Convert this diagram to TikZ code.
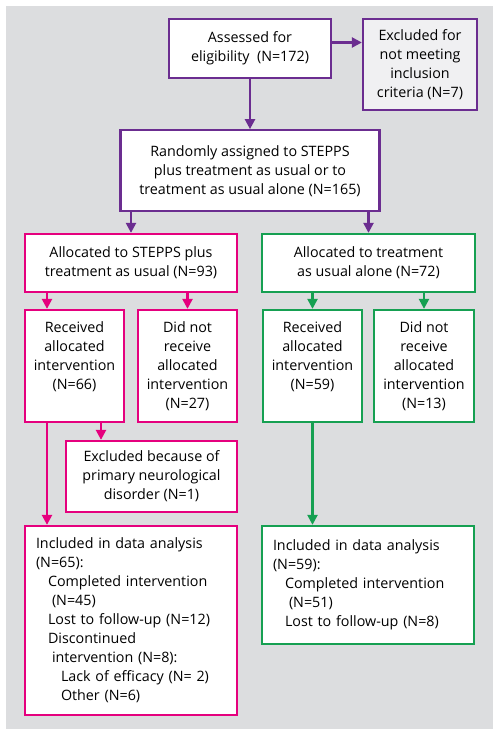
\documentclass[tikz,border=0pt]{standalone}
\usepackage{fontspec}
\setmainfont{Open Sans}
\usetikzlibrary{arrows.meta,positioning}

\definecolor{purp}{HTML}{6B2D90}
\definecolor{pinkk}{HTML}{E5007E}
\definecolor{grn}{HTML}{16A052}
\definecolor{panel}{HTML}{DCDDDF}
\definecolor{exclfill}{HTML}{F0F0F2}

\begin{document}
\begin{tikzpicture}[
    x=1pt, y=1pt,
    font=\fontsize{14.3}{19}\selectfont,
    box/.style={rectangle, draw, line width=2.3pt, fill=white, align=center, inner sep=2pt},
    pbox/.style={box, draw=purp},
    sbox/.style={box, draw=pinkk},
    tbox/.style={box, draw=grn},
    listbox/.style={rectangle, draw, line width=2.3pt, fill=white, align=left, inner xsep=11pt, text width=190pt},
    arrow/.style={line width=2.3pt, -{Triangle[width=10pt,length=10pt]}}
  ]

  % page and grey panel
  \useasboundingbox (0,0) rectangle (499,-736);
  \fill[panel] (6,-6) rectangle (493,-729);

  % Enrollment
  \node[pbox, minimum width=162pt, minimum height=59pt] (assess) at (250,-48.5) {Assessed for\\eligibility~~(N=172)};
  \node[pbox, fill=exclfill, minimum width=114pt, minimum height=91pt] (excl) at (420,-64.5) {Excluded for\\not meeting\\inclusion\\criteria (N=7)};
  \node[pbox, minimum width=259pt, minimum height=81pt, below=50pt of assess] (rand) {Randomly assigned to STEPPS\\plus treatment as usual or to\\treatment as usual alone (N=165)};

  % Allocation
  \node[sbox, minimum width=212pt, minimum height=58pt] (stepps) at (131,-263) {Allocated to STEPPS plus\\treatment as usual (N=93)};
  \node[tbox, minimum width=213pt, minimum height=58pt] (tau) at (368.5,-263) {Allocated to treatment\\as usual alone (N=72)};

  % Intervention received or not
  \node[sbox, minimum width=99pt, minimum height=112pt, text depth=21pt] (recS) at (74.5,-366) {Received\\allocated\\intervention\\(N=66)};
  \node[sbox, minimum width=99pt, minimum height=112pt] (notS) at (187.5,-366) {Did not\\receive\\allocated\\intervention\\(N=27)};
  \node[tbox, minimum width=99pt, minimum height=112pt, text depth=21pt] (recT) at (312.5,-366) {Received\\allocated\\intervention\\(N=59)};
  \node[tbox, minimum width=100pt, minimum height=112pt] (notT) at (424,-366) {Did not\\receive\\allocated\\intervention\\(N=13)};

  \node[sbox, minimum width=171pt, minimum height=71pt] (neuro) at (151.5,-476.5) {Excluded because of\\primary neurological\\disorder (N=1)};

  % Analysis
  \node[listbox, draw=pinkk, minimum height=189pt] (anaS) at (131,-620.5) {Included in data analysis\\
    (N=65):\\
    \hspace*{12pt}Completed intervention\\
    \hspace*{16pt}(N=45)\\
    \hspace*{12pt}Lost to follow-up (N=12)\\
    \hspace*{12pt}Discontinued\\
    \hspace*{16pt}intervention (N=8):\\
    \hspace*{25pt}Lack of efficacy (N=~2)\\
    \hspace*{25pt}Other (N=6)};
  \node[listbox, draw=grn, minimum height=118pt] (anaT) at (368,-585) {Included in data analysis\\
    (N=59):\\
    \hspace*{12pt}Completed intervention\\
    \hspace*{16pt}(N=51)\\
    \hspace*{12pt}Lost to follow-up (N=8)};

  % helper columns for the pink side
  \coordinate (sL) at (47,0);
  \coordinate (nL) at (101,0);

  % Arrows
  \draw[arrow, purp] ([yshift=6pt]assess.east) -- ([yshift=6pt]assess.east -| excl.west);
  \draw[arrow, purp] (assess.south) -- (rand.north);
  \draw[arrow, purp] (rand.south -| stepps.north) -- (stepps.north);
  \draw[arrow, purp] (rand.south -| tau.north) -- (tau.north);

  \draw[arrow, pinkk] (stepps.south -| sL) -- (recS.north -| sL);
  \draw[arrow, pinkk] (stepps.south -| notS.north) -- (notS.north);
  \draw[arrow, pinkk] (recS.south -| nL) -- (neuro.north -| nL);
  \draw[arrow, pinkk] (recS.south -| sL) -- (anaS.north -| sL);

  \draw[arrow, grn] (tau.south -| recT.north) -- (recT.north);
  \draw[arrow, grn] (tau.south -| notT.north) -- (notT.north);
  \draw[arrow, grn] (recT.south) -- (anaT.north -| recT.south);

\end{tikzpicture}
\end{document}
